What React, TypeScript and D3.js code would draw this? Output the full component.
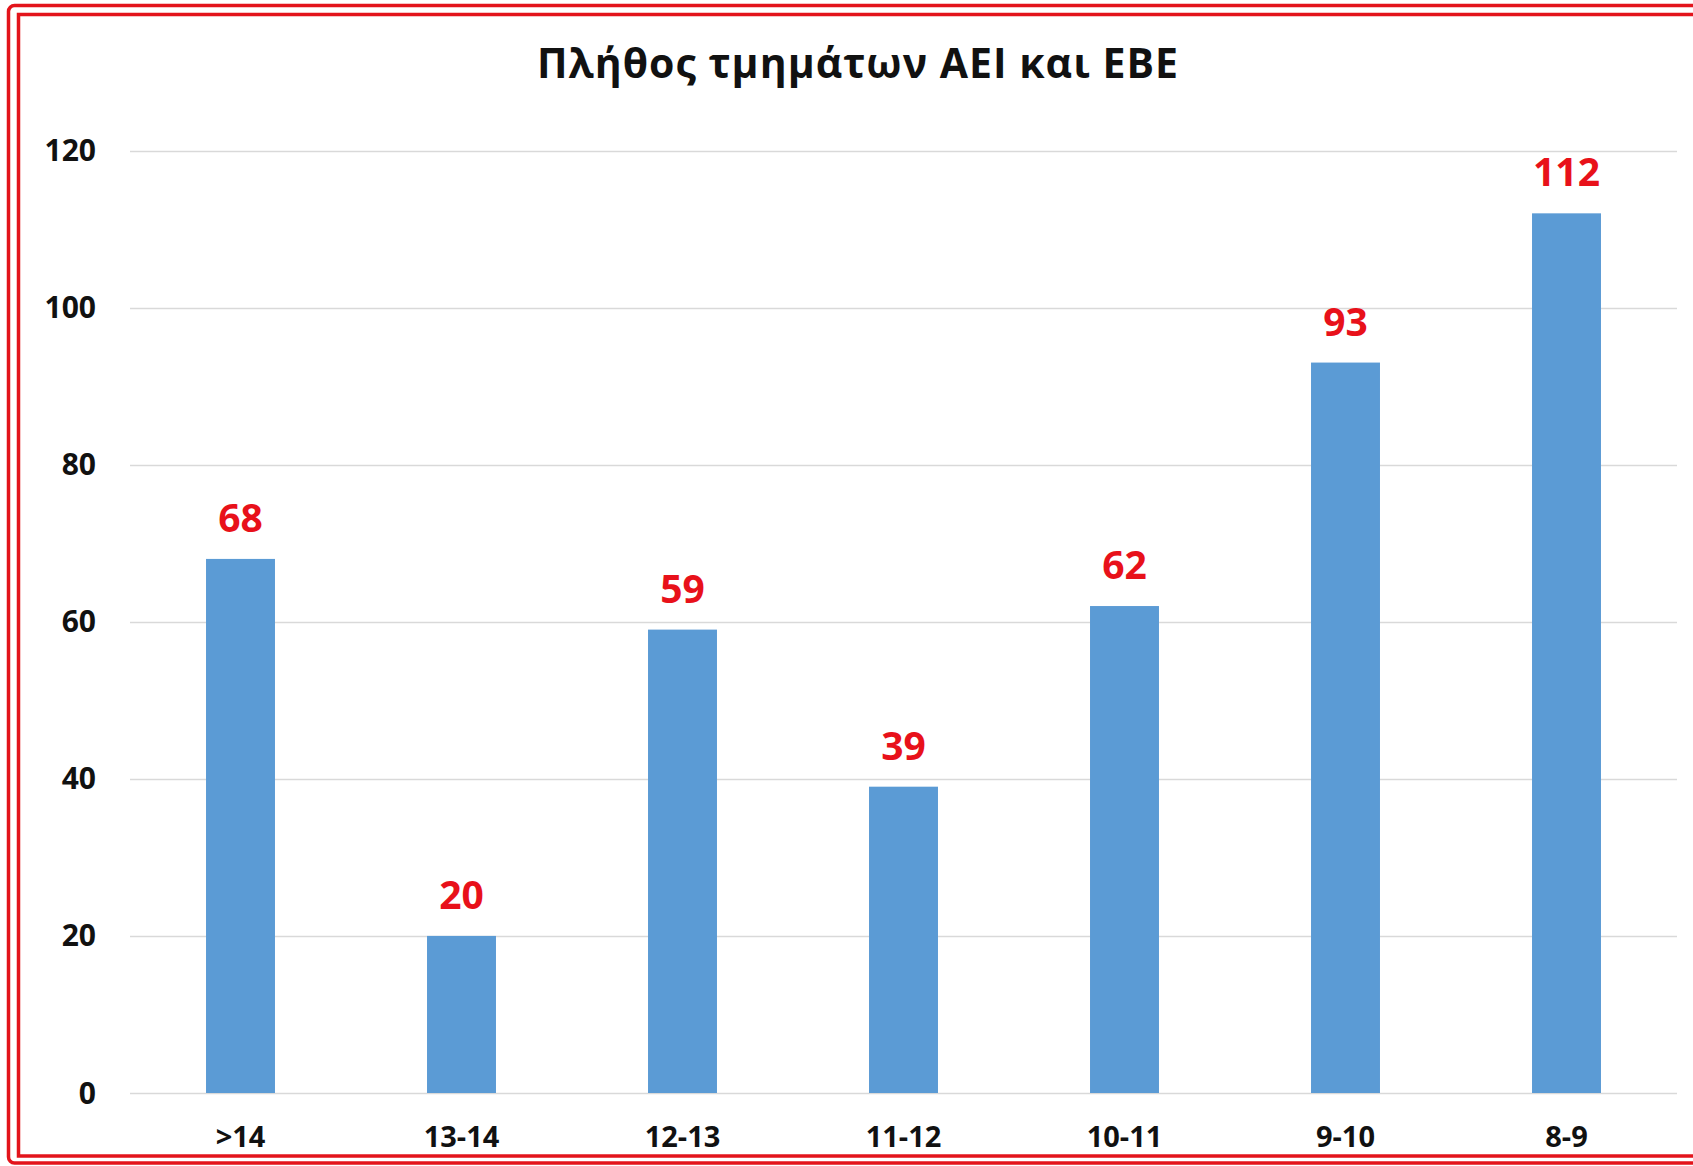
import { useRef, useEffect } from 'react';
import * as d3 from 'd3';

const categories = ['>14', '13-14', '12-13', '11-12', '10-11', '9-10', '8-9'];
const values = [68, 20, 59, 39, 62, 93, 112];
const yTicks = [0, 20, 40, 60, 80, 100, 120];
const title = 'Πλήθος τμημάτων ΑΕΙ και ΕΒΕ';

const W = 1693;
const H = 1166;
const FONT = '"Open Sans", "Noto Sans", sans-serif';

const App: React.FC = () => {
  const svgRef = useRef<SVGSVGElement | null>(null);

  useEffect(() => {
    const svg = d3.select(svgRef.current);
    svg.selectAll('*').remove();

    const margin = { top: 150.5, right: W - 1677, bottom: H - 1093, left: 130 };

    const x = d3.scaleBand<string>()
      .domain(categories)
      .range([margin.left, W - margin.right])
      .paddingInner(0.688)
      .paddingOuter(0.344);

    const y = d3.scaleLinear()
      .domain([0, 120])
      .range([H - margin.bottom, margin.top]);

    svg.append('rect')
      .attr('width', W)
      .attr('height', H)
      .attr('fill', '#fff');

    // double red frame, cut off on the right
    svg.append('rect')
      .attr('x', 8.5).attr('y', 5.5)
      .attr('width', W + 20).attr('height', 1163 - 5.5)
      .attr('rx', 6)
      .attr('fill', 'none')
      .attr('stroke', '#e3141b')
      .attr('stroke-width', 3.5);

    svg.append('rect')
      .attr('x', 18.5).attr('y', 14.5)
      .attr('width', W + 20).attr('height', 1156 - 14.5)
      .attr('fill', 'none')
      .attr('stroke', '#e3141b')
      .attr('stroke-width', 3.5);

    svg.append('g')
      .selectAll('line')
      .data(yTicks)
      .enter()
      .append('line')
      .attr('x1', margin.left)
      .attr('x2', W - margin.right)
      .attr('y1', d => Math.round(y(d)) + 0.5)
      .attr('y2', d => Math.round(y(d)) + 0.5)
      .attr('stroke', '#d9d9d9')
      .attr('stroke-width', 1.5);

    svg.append('g')
      .selectAll('text')
      .data(yTicks)
      .enter()
      .append('text')
      .attr('x', 96)
      .attr('y', d => y(d))
      .attr('dy', '0.35em')
      .attr('text-anchor', 'end')
      .style('font-family', FONT)
      .style('font-weight', 700)
      .style('font-size', '30px')
      .attr('fill', '#111')
      .text(d => d);

    svg.append('g')
      .selectAll('rect')
      .data(values)
      .enter()
      .append('rect')
      .attr('x', (d, i) => x(categories[i]) as number)
      .attr('y', d => y(d))
      .attr('width', x.bandwidth())
      .attr('height', d => y(0) - y(d))
      .attr('fill', '#5b9bd5');

    svg.append('g')
      .selectAll('text')
      .data(values)
      .enter()
      .append('text')
      .attr('x', (d, i) => (x(categories[i]) as number) + x.bandwidth() / 2)
      .attr('y', d => y(d) - 27)
      .attr('text-anchor', 'middle')
      .style('font-family', FONT)
      .style('font-weight', 700)
      .style('font-size', '39px')
      .attr('fill', '#e8111a')
      .text(d => d);

    svg.append('g')
      .selectAll('text')
      .data(categories)
      .enter()
      .append('text')
      .attr('x', d => (x(d) as number) + x.bandwidth() / 2)
      .attr('y', 1147)
      .attr('text-anchor', 'middle')
      .style('font-family', FONT)
      .style('font-weight', 700)
      .style('font-size', '29px')
      .attr('fill', '#111')
      .text(d => d);

    svg.append('text')
      .attr('x', 858)
      .attr('y', 78)
      .attr('text-anchor', 'middle')
      .style('font-family', FONT)
      .style('font-weight', 700)
      .style('font-size', '41px')
      .style('letter-spacing', '1px')
      .attr('fill', '#111')
      .text(title);
  }, []);

  return (
    <div style={{ position: 'absolute', left: 0, top: 0 }}>
      <svg ref={svgRef} width={W} height={H} style={{ display: 'block' }}></svg>
    </div>
  );
};

export default App;
